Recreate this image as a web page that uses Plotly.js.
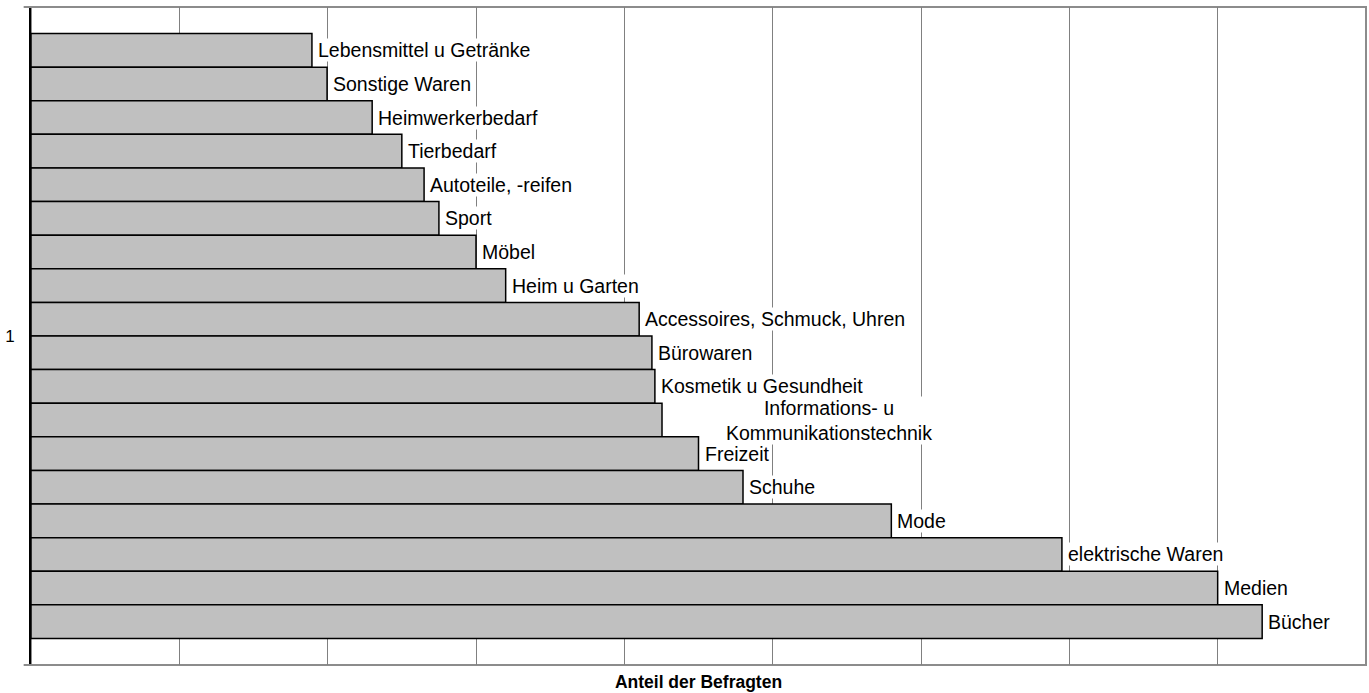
<!DOCTYPE html>
<html>
<head>
<meta charset="utf-8">
<script src="https://cdn.plot.ly/plotly-3.0.1.min.js"></script>
<style>html,body{margin:0;padding:0;background:#fff;}#chart{width:1369px;height:693px;}</style>
</head>
<body>
<div id="chart"></div>
<script>
// Categories listed top to bottom
var categories = ["Lebensmittel u Getränke","Sonstige Waren","Heimwerkerbedarf","Tierbedarf","Autoteile, -reifen","Sport","Möbel","Heim u Garten","Accessoires, Schmuck, Uhren","Bürowaren","Kosmetik u Gesundheit","Informations- u<br>Kommunikationstechnik","Freizeit","Schuhe","Mode","elektrische Waren","Medien","Bücher"];
// Share of respondents (estimated, percent)
var values = [9.47, 9.98, 11.5, 12.5, 13.25, 13.75, 15.0, 16.0, 20.5, 20.93, 21.03, 21.27, 22.5, 24.0, 29.0, 34.75, 40.0, 41.5];
var groupLabel = ["1"];
var xTitle = "Anteil der Befragten";

var n = categories.length;
var ypos = categories.map(function(c, i){ return n - 1 - i; });
var FONT = 'Liberation Sans, Arial, sans-serif';

var trace = {
  type: 'bar', orientation: 'h',
  x: values, y: ypos, width: 1,
  marker: {color: '#c0c0c0', line: {color: '#000', width: 1.5}},
  hoverinfo: 'none', showlegend: false
};

var annotations = categories.map(function(c, i){
  var multi = c.indexOf('<br>') >= 0;
  return {
    x: values[i], y: ypos[i], xref: 'x', yref: 'y',
    text: c, showarrow: false, xanchor: 'left', yanchor: 'middle',
    xshift: multi ? 63 : 5, align: 'center',
    bgcolor: 'white', borderpad: 0,
    font: {family: FONT, size: 19.5, color: '#000'}
  };
});

var pad = 0.79;
var layout = {
  width: 1369, height: 693,
  margin: {l: 31, r: 3, t: 7, b: 28},
  paper_bgcolor: '#fff', plot_bgcolor: '#fff',
  font: {family: FONT, color: '#000'},
  xaxis: {
    range: [0, 45], dtick: 5, tick0: 0, showgrid: true, gridcolor: '#808080', gridwidth: 1,
    showticklabels: false, ticks: '', zeroline: false, showline: false,
    title: {text: '<b>' + xTitle + '</b>', font: {size: 17.5, family: FONT, color: '#000'}, standoff: 10}
  },
  yaxis: {
    range: [-0.5 - pad, n - 0.5 + pad], tickvals: [(n - 1) / 2], ticktext: groupLabel,
    ticks: '', showgrid: false, zeroline: false, showline: true, linecolor: '#000', linewidth: 2,
    tickfont: {size: 17, family: FONT, color: '#000'}, ticklabelstandoff: 11
  },
  shapes: [
    {type: 'rect', xref: 'paper', yref: 'paper', x0: 0, x1: 1, y0: 0, y1: 1, line: {color: '#8c8c8c', width: 2}, layer: 'below'},
    {type: 'line', xref: 'paper', yref: 'paper', x0: -0.0055, x1: 0, y0: 1, y1: 1, line: {color: '#8c8c8c', width: 2}},
    {type: 'line', xref: 'paper', yref: 'paper', x0: -0.0055, x1: 0, y0: 0, y1: 0, line: {color: '#8c8c8c', width: 2}}
  ],
  annotations: annotations,
  bargap: 0
};

Plotly.newPlot('chart', [trace], layout, {displayModeBar: false, staticPlot: true});
</script>
</body>
</html>
